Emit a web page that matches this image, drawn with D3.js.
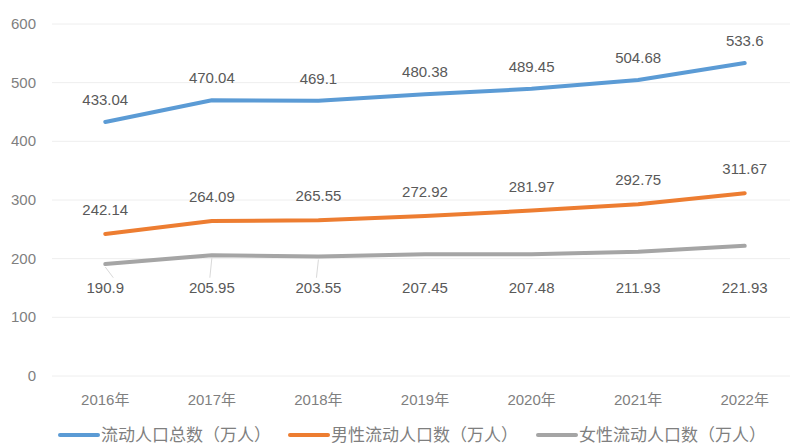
<!DOCTYPE html>
<html>
<head>
<meta charset="utf-8">
<script src="https://cdn.jsdelivr.net/npm/d3@7"></script>
<style>
  body { margin: 0; background: #fff; }
  svg { font-family: "Liberation Sans", "Noto Sans CJK SC", sans-serif; }
</style>
</head>
<body>
<svg width="792" height="445"></svg>
<script>
// chart data
var years = ["2016年", "2017年", "2018年", "2019年", "2020年", "2021年", "2022年"];
var total = [433.04, 470.04, 469.1, 480.38, 489.45, 504.68, 533.6];
var male = [242.14, 264.09, 265.55, 272.92, 281.97, 292.75, 311.67];
var female = [190.9, 205.95, 203.55, 207.45, 207.48, 211.93, 221.93];
var seriesNames = ["流动人口总数（万人）", "男性流动人口数（万人）", "女性流动人口数（万人）"];
var yTicks = [0, 100, 200, 300, 400, 500, 600];

var colors = ["#5B9BD5", "#ED7D31", "#A5A5A5"];
var allSeries = [total, male, female];

const svg = d3.select("svg");
const plotL = 52, plotR = 798, plotT = 24, plotB = 376;

const x = d3.scaleBand().domain(years).range([plotL, plotR]);
const y = d3.scaleLinear().domain([0, 600]).range([plotB, plotT]);
const cx = d => x(d) + x.bandwidth() / 2;

// gridlines
svg.append("g")
    .selectAll("line")
    .data(yTicks)
    .enter().append("line")
    .attr("x1", plotL).attr("x2", 790)
    .attr("y1", d => y(d)).attr("y2", d => y(d))
    .style("stroke", "#eeeeee")
    .style("stroke-width", 1);

// y labels
svg.append("g")
    .selectAll("text")
    .data(yTicks)
    .enter().append("text")
    .attr("x", 36).attr("y", d => y(d) + 5)
    .attr("text-anchor", "end")
    .style("font-size", "15px")
    .style("fill", "#7f7f7f")
    .text(d => d);

// x labels
svg.append("g")
    .selectAll("text")
    .data(years)
    .enter().append("text")
    .attr("x", d => cx(d)).attr("y", 405)
    .attr("text-anchor", "middle")
    .style("font-size", "15px")
    .style("fill", "#7f7f7f")
    .text(d => d);

const line = d3.line()
    .x((d, i) => cx(years[i]))
    .y(d => y(d));

allSeries.forEach(function(vals, s) {
    svg.append("path")
        .datum(vals)
        .attr("d", line)
        .style("fill", "none")
        .style("stroke", colors[s])
        .style("stroke-width", 4)
        .style("stroke-linecap", "round")
        .style("stroke-linejoin", "round");
});

// data labels: total & male above, female below with leader lines
[total, male].forEach(function(vals, s) {
    svg.append("g")
        .selectAll("text")
        .data(vals)
        .enter().append("text")
        .attr("x", (d, i) => cx(years[i]))
        .attr("y", d => y(d) - (s === 0 ? 17 : 19))
        .attr("text-anchor", "middle")
        .style("font-size", "15px")
        .style("fill", "#595959")
        .text(d => d);
});

const fBase = y(188) + 27;
svg.append("g")
    .selectAll("line")
    .data(female.slice(0, 3))
    .enter().append("line")
    .attr("x1", (d, i) => cx(years[i])).attr("y1", d => y(d) + 3)
    .attr("x2", (d, i) => cx(years[i]) + (i === 0 ? 8 : -2)).attr("y2", fBase - 15)
    .style("stroke", "#d9d9d9")
    .style("stroke-width", 1);

svg.append("g")
    .selectAll("text")
    .data(female)
    .enter().append("text")
    .attr("x", (d, i) => cx(years[i]))
    .attr("y", fBase)
    .attr("text-anchor", "middle")
    .style("font-size", "15px")
    .style("fill", "#595959")
    .text(d => d);

// legend
const legendX = [60, 290, 538];
seriesNames.forEach(function(name, s) {
    const g = svg.append("g").attr("transform", "translate(" + legendX[s] + ",435)");
    g.append("line")
        .attr("x1", 0).attr("x2", 38)
        .style("stroke", colors[s])
        .style("stroke-width", 4)
        .style("stroke-linecap", "round");
    g.append("text")
        .attr("x", 41).attr("y", 6)
        .style("font-size", "17px")
        .style("font-family", "'Noto Sans CJK SC', sans-serif")
        .style("fill", "#7f7f7f")
        .text(name);
});
</script>
</body>
</html>
